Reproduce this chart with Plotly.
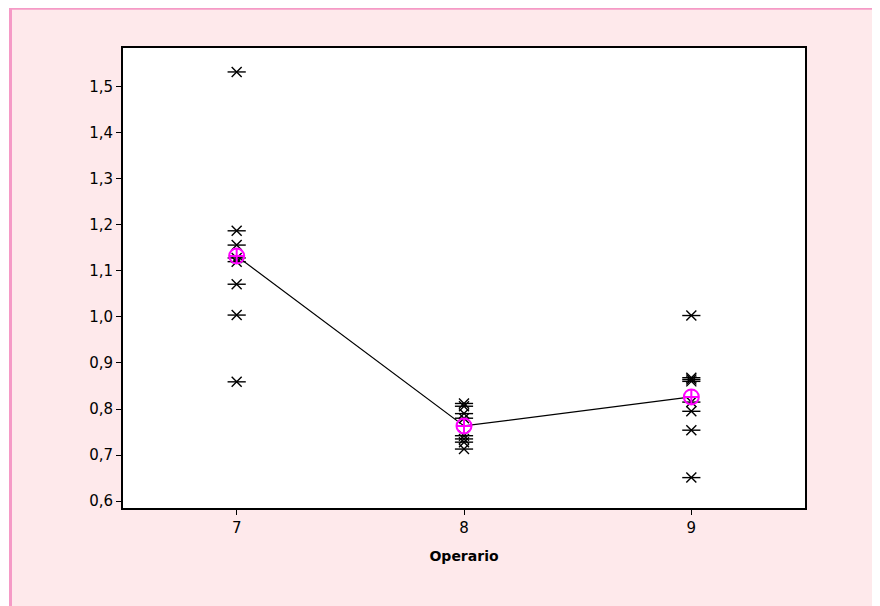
import numpy as np
import plotly.graph_objects as go

operarios = [7, 8, 9]
valores_7 = [1.532, 1.187, 1.156, 1.128, 1.120, 1.071, 1.004, 0.859]
valores_8 = [0.812, 0.806, 0.790, 0.780, 0.742, 0.735, 0.728, 0.713]
valores_9 = [1.003, 0.868, 0.864, 0.860, 0.815, 0.795, 0.754, 0.651]
y_ticks = [0.6, 0.7, 0.8, 0.9, 1.0, 1.1, 1.2, 1.3, 1.4, 1.5]

grupos = [valores_7, valores_8, valores_9]
xs = []
ys = []
for op, vals in zip(operarios, grupos):
    xs += [op] * len(vals)
    ys += vals
medias = [float(np.mean(v)) for v in grupos]

fig = go.Figure()
fig.add_trace(go.Scatter(
    x=xs, y=ys, mode="markers",
    marker=dict(symbol="x-thin-open", size=10, color="black",
                line=dict(color="black", width=1.4)),
    showlegend=False, hoverinfo="x+y"))
fig.add_trace(go.Scatter(
    x=xs, y=ys, mode="markers",
    marker=dict(symbol="line-ew-open", size=13, color="black",
                line=dict(color="black", width=1.4)),
    showlegend=False, hoverinfo="skip"))
fig.add_trace(go.Scatter(
    x=operarios, y=medias, mode="lines",
    line=dict(color="black", width=1.2), showlegend=False))
fig.add_trace(go.Scatter(
    x=operarios, y=medias, mode="markers",
    marker=dict(symbol="circle-cross-open", size=15, color="#FF00FF",
                line=dict(color="#FF00FF", width=2)),
    showlegend=False))

# figure sits at page offset (8, 8)
OFF = 8
L, R, T, B = 123 - OFF, 805 - OFF, 48 - OFF, 508 - OFF
W, H = 880 - OFF, 606 - OFF
pw, ph = R - L, B - T

def px(xp):
    return (xp - L) / pw

def py(yp):
    return (B - yp) / ph

pink_border = "#F59AC6"
shapes = [
    dict(type="rect", xref="paper", yref="paper", x0=px(-5), x1=px(W + 5), y0=py(1.8), y1=py(-5),
         fillcolor=pink_border, line=dict(width=0), layer="below"),
    dict(type="rect", xref="paper", yref="paper", x0=px(-5), x1=px(1), y0=py(H + 5), y1=py(-5),
         fillcolor="white", line=dict(width=0), layer="below"),
    dict(type="rect", xref="paper", yref="paper", x0=px(1), x1=px(4), y0=py(H + 5), y1=py(-5),
         fillcolor=pink_border, line=dict(width=0), layer="below"),
]

fig.update_layout(
    width=W, height=H,
    margin=dict(l=L, r=W - R, t=T, b=H - B),
    paper_bgcolor="#FEE9EB",
    plot_bgcolor="white",
    separators=",.",
    font=dict(family="DejaVu Sans, Verdana, sans-serif", size=15, color="black"),
    shapes=shapes,
    xaxis=dict(range=[6.5, 9.5], tickvals=operarios, ticks="outside", ticklen=5,
               tickcolor="black", showgrid=False, zeroline=False,
               showline=True, linecolor="black", linewidth=2, mirror=True,
               title=dict(text="<b>Operario</b>", font=dict(size=14), standoff=15)),
    yaxis=dict(range=[0.585, 1.584], tickvals=y_ticks, tickformat=".1f",
               ticks="outside", ticklen=5, tickcolor="black", showgrid=False,
               zeroline=False, showline=True, linecolor="black", linewidth=2,
               mirror=True),
)

fig.write_html("out.html")
